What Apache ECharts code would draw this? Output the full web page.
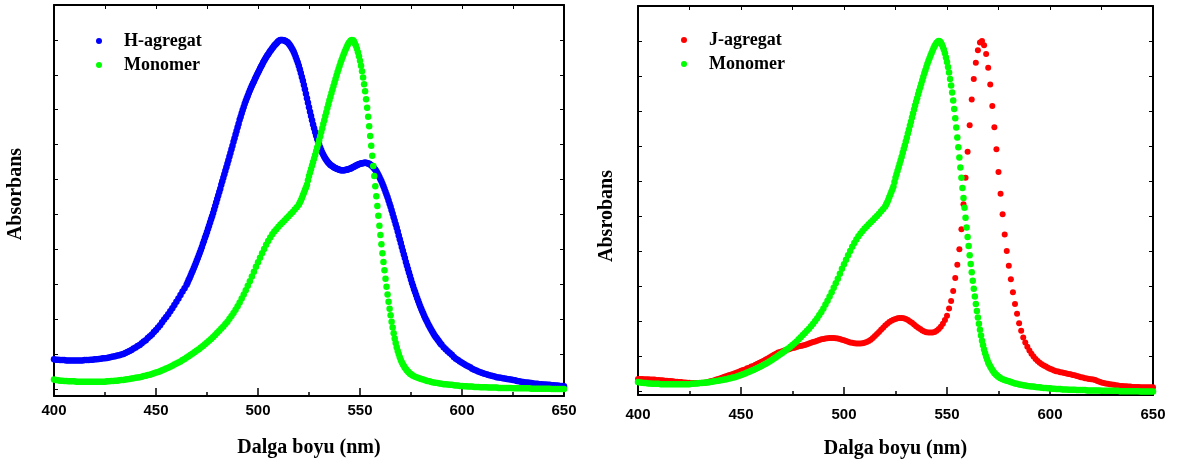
<!DOCTYPE html>
<html><head><meta charset="utf-8">
<script src="https://cdn.jsdelivr.net/npm/echarts@6/dist/echarts.min.js"></script>
<style>html,body{margin:0;padding:0;background:#fff}#c{width:1178px;height:464px}</style>
</head><body><div id="c"></div>
<script>
// ---- tick labels ----
const xTickLabels = [400, 450, 500, 550, 600, 650];
const seriesNames = ['H-agregat', 'J-agregat', 'Monomer'];
const axisTitles = { x: 'Dalga boyu (nm)', yLeft: 'Absorbans', yRight: 'Absrobans' };

// ---- H-agregat: 400..464 (1 nm), 465..590 (0.5 nm), 591..650 (1 nm) ----
const hAgregat = [
8.5,8.4,8.4,8.3,8.3,8.3,8.2,8.2,8.2,8.2,
8.2,8.2,8.2,8.2,8.2,8.3,8.3,8.3,8.4,8.4,
8.5,8.5,8.6,8.7,8.8,8.8,8.9,9.0,9.2,9.3,
9.4,9.6,9.7,9.9,10.0,10.3,10.6,10.9,11.2,11.6,
11.9,12.3,12.6,13.1,13.6,14.0,14.6,15.1,15.6,16.3,
16.9,17.6,18.3,19.1,19.9,20.6,21.4,22.3,23.1,24.1,
25.0,25.9,26.9,27.9,28.9,
29.9,30.5, 31.2,31.8, 32.5,33.2, 33.9,34.6, 35.3,36.0,
36.8,37.5, 38.3,39.1, 39.9,40.7, 41.6,42.4, 43.3,44.1,
45.0,45.9, 46.8,47.7, 48.6,49.5, 50.4,51.4, 52.4,53.4,
54.4,55.4, 56.4,57.4, 58.5,59.5, 60.5,61.5, 62.5,63.5,
64.5,65.5, 66.6,67.6, 68.7,69.7, 70.8,71.8, 72.9,73.9,
75.0,76.0, 77.1,78.0, 79.0,79.9, 80.8,81.7, 82.5,83.3,
84.0,84.8, 85.5,86.2, 86.9,87.5, 88.1,88.8, 89.4,90.0,
90.6,91.2, 91.8,92.4, 92.9,93.5, 94.0,94.5, 95.0,95.5,
95.9,96.4, 96.8,97.2, 97.6,98.0, 98.4,98.7, 99.0,99.3,
99.6,99.8, 100.0,100.0, 100.0,99.9, 99.8,99.7, 99.5,99.3,
99.0,98.6, 98.2,97.7, 97.2,96.6, 95.9,95.1, 94.3,93.5,
92.6,91.6, 90.5,89.4, 88.3,87.1, 85.9,84.6, 83.3,82.0,
80.7,79.4, 78.2,77.0, 75.8,74.7, 73.6,72.6, 71.6,70.7,
69.9,69.1, 68.4,67.7, 67.1,66.5, 66.0,65.6, 65.2,64.8,
64.5,64.2, 64.0,63.8, 63.6,63.4, 63.3,63.1, 63.0,62.9,
62.8,62.7, 62.7,62.7, 62.7,62.7, 62.8,62.8, 62.9,63.0,
63.1,63.2, 63.4,63.5, 63.7,63.8, 64.0,64.1, 64.3,64.4,
64.5,64.6, 64.7,64.7, 64.8,64.8, 64.8,64.7, 64.6,64.5,
64.3,64.1, 63.8,63.5, 63.2,62.8, 62.4,61.9, 61.3,60.7,
60.1,59.5, 58.8,58.1, 57.3,56.5, 55.7,54.9, 54.0,53.1,
52.2,51.2, 50.2,49.2, 48.2,47.2, 46.2,45.1, 44.0,42.9,
41.8,40.7, 39.6,38.5, 37.5,36.4, 35.4,34.4, 33.4,32.4,
31.4,30.4, 29.5,28.6, 27.8,26.9, 26.1,25.3, 24.5,23.7,
23.0,22.3, 21.6,20.9, 20.3,19.7, 19.1,18.5, 18.0,17.4,
16.9,16.4, 15.9,15.4, 15.0,14.6, 14.2,13.8, 13.4,13.0,
12.7,
12.0,11.4,10.8,10.3,9.8,9.2,8.7,8.3,7.9,
7.5,7.2,6.8,6.5,6.2,5.8,5.5,5.3,5.0,4.8,
4.6,4.4,4.2,4.0,3.9,3.7,3.6,3.4,3.3,3.2,
3.1,3.0,2.9,2.8,2.7,2.6,2.5,2.3,2.2,2.1,
2.0,1.9,1.9,1.8,1.7,1.6,1.5,1.5,1.4,1.4,
1.3,1.3,1.2,1.2,1.1,1.1,1.0,1.0,0.9,0.9,0.8
];

// ---- J-agregat, 400..650 nm, 1 nm step ----
const jAgregat = [
3.6,3.6,3.6,3.5,3.5,3.5,3.4,3.4,3.4,3.3,
3.3,3.2,3.2,3.1,3.1,3.0,3.0,2.9,2.8,2.8,
2.7,2.7,2.6,2.6,2.5,2.5,2.4,2.4,2.4,2.4,
2.4,2.5,2.5,2.6,2.7,2.9,3.0,3.2,3.4,3.6,
3.8,4.0,4.2,4.4,4.6,4.8,5.0,5.2,5.4,5.6,
5.9,6.1,6.3,6.6,6.8,7.1,7.3,7.6,7.9,8.2,
8.5,8.8,9.1,9.4,9.8,10.1,10.5,10.8,11.1,11.3,
11.5,11.7,11.9,12.0,12.2,12.4,12.5,12.7,12.9,13.0,
13.1,13.3,13.5,13.7,13.9,14.1,14.3,14.5,14.7,14.9,
15.0,15.1,15.2,15.3,15.3,15.3,15.2,15.1,15.0,14.8,
14.6,14.4,14.2,14.0,13.9,13.8,13.7,13.7,13.7,13.8,
13.9,14.1,14.4,14.8,15.3,15.8,16.4,17.0,17.6,18.2,
18.8,19.3,19.8,20.2,20.5,20.7,20.9,21.0,21.0,20.9,
20.7,20.4,20.0,19.6,19.1,18.6,18.2,17.8,17.4,17.1,
16.9,16.8,16.8,16.8,17.0,17.3,17.8,18.5,19.3,20.4,
21.6,23.7,25.8,28.7,32.4,36.2,40.6,46.3,53.4,61.0,
68.4,76.0,83.3,89.2,93.8,97.4,99.6,100.0,98.8,96.3,
92.4,87.6,81.5,75.4,69.1,62.6,56.4,50.6,44.8,40.1,
35.9,32.0,28.3,25.0,22.2,19.5,17.3,15.4,14.0,12.8,
11.7,10.8,10.0,9.3,8.7,8.2,7.8,7.4,7.1,6.8,
6.5,6.3,6.0,5.8,5.7,5.5,5.4,5.3,5.1,5.0,
4.9,4.7,4.6,4.4,4.3,4.1,4.0,3.8,3.7,3.6,
3.5,3.4,3.3,3.0,2.8,2.6,2.4,2.3,2.2,2.1,
2.0,1.9,1.8,1.7,1.6,1.6,1.5,1.5,1.4,1.4,
1.3,1.3,1.3,1.3,1.2,1.2,1.2,1.2,1.2,1.2,1.2
];

// ---- Monomer: 400..519 (1 nm), 520..576 (0.5 nm), 577..650 (1 nm) ----
const monomer = [
2.7,2.6,2.5,2.4,2.4,2.3,2.3,2.2,2.2,2.2,
2.2,2.1,2.1,2.1,2.1,2.1,2.1,2.1,2.1,2.1,
2.1,2.1,2.1,2.1,2.1,2.1,2.2,2.2,2.3,2.3,
2.4,2.4,2.5,2.6,2.6,2.7,2.8,2.9,3.0,3.1,
3.2,3.3,3.4,3.5,3.7,3.8,4.0,4.1,4.3,4.5,
4.7,4.9,5.1,5.4,5.6,5.9,6.1,6.4,6.7,7.0,
7.3,7.6,7.9,8.3,8.6,9.0,9.4,9.8,10.2,10.6,
11.0,11.4,11.9,12.3,12.8,13.3,13.8,14.3,14.9,15.5,
16.1,16.7,17.3,17.9,18.6,19.3,20.1,20.9,21.8,22.7,
23.7,24.8,25.9,27.1,28.3,29.6,30.9,32.2,33.6,35.0,
36.3,37.6,38.9,40.1,41.3,42.4,43.4,44.3,45.1,45.8,
46.5,47.1,47.7,48.3,48.9,49.5,50.1,50.7,51.4,52.1,
52.8,53.4,54.0,54.7,55.5,56.2,57.0,57.7,58.5,59.8,
61.0,62.0,63.0,64.0,65.0,66.0,67.0,68.1,69.2,70.2,
71.3,72.4,73.6,74.7,75.9,77.0,78.2,79.3,80.5,81.6,
82.7,83.7,84.8,85.8,86.8,87.8,88.8,89.8,90.8,91.7,
92.6,93.5,94.3,95.1,95.9,96.6,97.3,98.0,98.6,99.1,
99.5,99.8,100.0,99.9,99.6,99.0,98.3,97.5,96.5,95.3,
94.0,92.6,91.0,89.2,87.3,85.3,83.0,80.6,78.0,75.3,
72.5,69.7,66.8,63.9,61.0,58.1,55.2,52.4,49.6,46.8,
44.1,41.5,38.9,36.4,34.0,31.6,29.3,27.1,25.0,23.0,
21.1,19.3,17.6,16.0,14.5,13.2,12.0,10.9,10.0,9.1,
8.3,7.7,7.1,6.6,6.1,5.7,5.3,5.0,4.7,4.4,
4.2,4.0,3.8,
3.5,3.3,3.1,2.9,2.7,2.5,2.3,2.2,2.0,1.9,
1.8,1.7,1.6,1.5,1.4,1.4,1.3,1.2,1.2,1.1,
1.0,1.0,0.9,0.9,0.8,0.8,0.7,0.7,0.7,0.6,
0.6,0.6,0.5,0.5,0.5,0.5,0.4,0.4,0.4,0.4,
0.4,0.3,0.3,0.3,0.3,0.3,0.3,0.3,0.2,0.2,
0.2,0.2,0.2,0.2,0.2,0.2,0.2,0.1,0.1,0.1,
0.1,0.1,0.1,0.1,0.1,0.1,0.1,0.0,0.0,0.0,
0.0,0.0,0.0,0.0
];

// wavelength grids (nm)
function nmGrid(segments) {
  const out = [];
  segments.forEach(([a, b, s]) => { for (let w = a; w <= b + 1e-9; w += s) out.push(Math.round(w * 10) / 10); });
  return out;
}
const nmJ = nmGrid([[400, 650, 1]]);
const nmH = nmGrid([[400, 464, 1], [465, 590, 0.5], [591, 650, 1]]);
const nmMonomer = nmGrid([[400, 519, 1], [520, 576, 0.5], [577, 650, 1]]);

function pairs(xs, ys) { return ys.map((v, i) => [xs[i], v]); }

const BLACK = '#000';
const tickFont = { color: BLACK, fontFamily: '"Liberation Sans", Arial, sans-serif', fontWeight: 'bold', fontSize: 15 };
const titleFont = { color: BLACK, fontFamily: '"Liberation Serif", "Times New Roman", serif', fontWeight: 'bold', fontSize: 20 };
const legendFont = { color: BLACK, fontFamily: '"Liberation Serif", "Times New Roman", serif', fontWeight: 'bold', fontSize: 18 };

function xAxes(gi, margin, gap) {
  return [
    { gridIndex: gi, type: 'value', min: 400, max: 650, interval: 50, position: 'bottom',
      axisLine: { show: true, onZero: false, lineStyle: { color: BLACK, width: 2 } },
      axisTick: { show: true, inside: true, length: 8, lineStyle: { color: BLACK, width: 1.5 } },
      minorTick: { show: true, splitNumber: 2, length: 4, lineStyle: { color: BLACK, width: 1.5 } },
      axisLabel: Object.assign({ margin: margin, formatter: v => xTickLabels.includes(v) ? String(v) : '' }, tickFont),
      splitLine: { show: false },
      name: axisTitles.x, nameLocation: 'middle', nameGap: gap, nameTextStyle: titleFont },
    { gridIndex: gi, type: 'value', min: 400, max: 650, interval: 25, position: 'top',
      axisLine: { show: true, onZero: false, lineStyle: { color: BLACK, width: 2 } },
      axisTick: { show: true, inside: true, length: 4, lineStyle: { color: BLACK, width: 1 } },
      axisLabel: { show: false }, splitLine: { show: false } }
  ];
}
function yAxes(gi, ymin) {
  const base = { gridIndex: gi, type: 'value', min: ymin, max: 110, splitNumber: 11, minInterval: 10, maxInterval: 10,
    axisLine: { show: true, onZero: false, lineStyle: { color: BLACK, width: 2 } },
    axisTick: { show: true, inside: true, length: 4, lineStyle: { color: BLACK, width: 1 } },
    axisLabel: { show: false }, splitLine: { show: false } };
  return [Object.assign({ position: 'left' }, base), Object.assign({ position: 'right' }, base)];
}

function scatter(name, xi, yi, data, color, size) {
  return { type: 'scatter', name: name, xAxisIndex: xi, yAxisIndex: yi, data: data,
    symbol: 'circle', symbolSize: size, itemStyle: { color: color, opacity: 1 },
    silent: true, animation: false, large: false };
}

const legendBase = { orient: 'vertical', icon: 'circle', itemWidth: 40, itemHeight: 6, itemGap: 6, padding: 0,
  selectedMode: false, textStyle: Object.assign({ lineHeight: 18 }, legendFont) };

const option = {
  backgroundColor: '#fff',
  animation: false,
  grid: [
    { left: 54, top: 5, width: 510, height: 391 },
    { left: 638, top: 6, width: 515, height: 395 }
  ],
  xAxis: [...xAxes(0, 7, 42), ...xAxes(1, 12, 44)],
  yAxis: [...yAxes(0, -2), ...yAxes(1, -1)],
  legend: [
    Object.assign({ data: [seriesNames[0], seriesNames[2]], left: 96, top: 32 }, legendBase),
    Object.assign({ data: [seriesNames[1], seriesNames[2]], left: 681, top: 31 }, legendBase)
  ],
  graphic: [
    { type: 'text', x: 16, y: 194, rotation: Math.PI / 2,
      style: { text: axisTitles.yLeft, fill: BLACK, font: 'bold 20px "Liberation Serif", serif', align: 'center', verticalAlign: 'middle' } },
    { type: 'text', x: 607, y: 216, rotation: Math.PI / 2,
      style: { text: axisTitles.yRight, fill: BLACK, font: 'bold 20px "Liberation Serif", serif', align: 'center', verticalAlign: 'middle' } }
  ],
  series: [
    scatter(seriesNames[0], 0, 0, pairs(nmH, hAgregat), '#0000ff', 6.5),
    scatter(seriesNames[2], 0, 0, pairs(nmMonomer, monomer), '#00ff00', 6.5),
    scatter(seriesNames[1], 2, 2, pairs(nmJ, jAgregat), '#ff0000', 6),
    scatter(seriesNames[2], 2, 2, pairs(nmMonomer, monomer), '#00ff00', 6.5)
  ]
};

const chart = echarts.init(document.getElementById('c'), null, { renderer: 'canvas' });
chart.setOption(option);
</script>
</body></html>
